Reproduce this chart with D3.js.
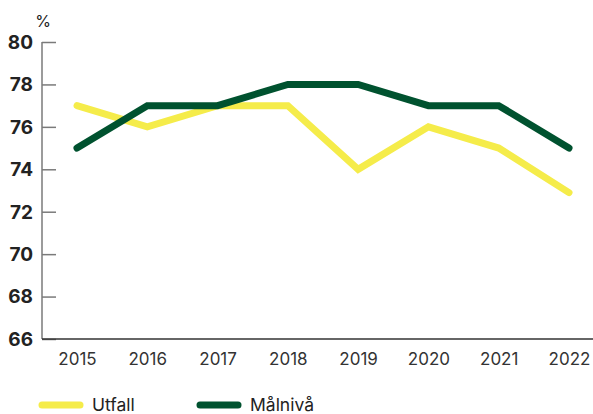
<!DOCTYPE html>
<html lang="sv">
<head>
  <meta charset="UTF-8">
  <title>Utfall och målnivå</title>
  <script src="https://cdn.jsdelivr.net/npm/d3@7"></script>
  <style>
    body { margin: 0; background: #fff; }
    text { font-family: Inter, Roboto, sans-serif; }
  </style>
</head>
<body>
  <svg width="593" height="414"></svg>
  <script>
    const years = ['2015', '2016', '2017', '2018', '2019', '2020', '2021', '2022'];
    const utfall = [77, 76, 77, 77, 74, 76, 75, 72.9];
    const malniva = [75, 77, 77, 78, 78, 77, 77, 75];
    const yTicks = [66, 68, 70, 72, 74, 76, 78, 80];

    const yellow = '#f5ec4a';
    const green = '#00522f';

    const svg = d3.select('svg');
    const mLeft = 42, mRight = 593, mTop = 42, mBottom = 339;

    const x = d3.scalePoint().domain(years).range([77, 569]);
    const y = d3.scaleLinear().domain([66, 80]).range([mBottom, mTop]);

    // y-axel: tickmarks inåt
    const yAxis = svg.append('g')
      .attr('transform', 'translate(' + mLeft + ',0)')
      .call(d3.axisRight(y).tickValues(yTicks).tickSize(14).tickFormat(''));
    yAxis.select('.domain').attr('stroke', '#7a7a7a').attr('stroke-width', 1.5)
      .attr('d', 'M0,' + mTop + 'V' + mBottom);
    yAxis.selectAll('.tick line').attr('stroke', '#7a7a7a').attr('stroke-width', 1.5);

    svg.append('g').selectAll('text')
      .data(yTicks)
      .join('text')
      .attr('x', 33)
      .attr('y', d => y(d))
      .attr('dy', '0.36em')
      .attr('text-anchor', 'end')
      .attr('font-size', 19)
      .attr('font-weight', 700)
      .attr('fill', '#222')
      .text(d => d);

    svg.append('text')
      .attr('x', 43).attr('y', 27)
      .attr('text-anchor', 'middle')
      .attr('font-size', 16)
      .attr('fill', '#222')
      .text('%');

    // x-axel
    const xAxis = svg.append('g')
      .attr('transform', 'translate(0,' + mBottom + ')')
      .call(d3.axisBottom(x).tickSize(0).tickPadding(14));
    xAxis.select('.domain').attr('stroke', '#333').attr('stroke-width', 1.5)
      .attr('d', 'M' + mLeft + ',0H' + mRight);
    xAxis.selectAll('text').attr('font-size', 17).attr('fill', '#333')
      .style('font-family', 'Inter, Roboto, sans-serif');

    const line = d3.line().x((d, i) => x(years[i])).y(d => y(d));

    svg.append('path').datum(utfall)
      .attr('d', line)
      .attr('fill', 'none')
      .attr('stroke', yellow)
      .attr('stroke-width', 7)
      .attr('stroke-linecap', 'round');

    svg.append('path').datum(malniva)
      .attr('d', line)
      .attr('fill', 'none')
      .attr('stroke', green)
      .attr('stroke-width', 7)
      .attr('stroke-linecap', 'round');

    // legend
    const legend = [{ name: 'Utfall', color: yellow, x: 42 }, { name: 'Målnivå', color: green, x: 200 }];
    const lg = svg.append('g').selectAll('g')
      .data(legend)
      .join('g')
      .attr('transform', d => 'translate(' + d.x + ',405)');
    lg.append('line')
      .attr('x1', 0).attr('x2', 38)
      .attr('stroke', d => d.color)
      .attr('stroke-width', 7)
      .attr('stroke-linecap', 'round');
    lg.append('text')
      .attr('x', 50).attr('dy', '0.36em')
      .attr('font-size', 17.5)
      .attr('fill', '#222')
      .text(d => d.name);
  </script>
</body>
</html>
